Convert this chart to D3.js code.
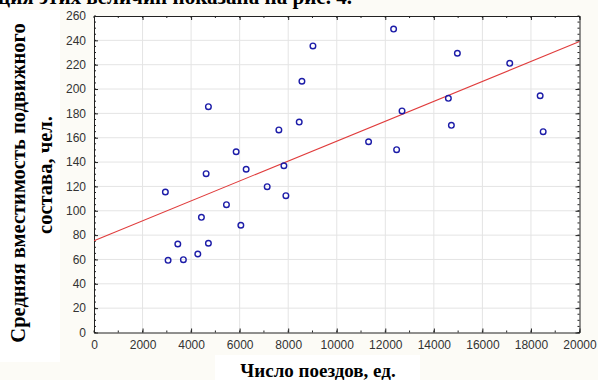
<!DOCTYPE html>
<html>
<head>
<meta charset="utf-8">
<script src="https://cdn.jsdelivr.net/npm/d3@7"></script>
<style>
  body { margin: 0; background: #fcfbf6; }
  svg { display: block; }
</style>
</head>
<body>
<svg id="chart"></svg>
<script>
// Data
const trains = [4713, 9019, 8565, 7616, 8454, 5856, 6268, 7823, 4619, 12342,
  14969, 17126, 18379, 14598, 12689, 14722, 18503, 11311, 12466, 2940,
  7134, 7905, 5456, 4425, 6049, 3452, 4713, 3052, 3682, 4276];
const capacity = [185.5, 235.4, 206.4, 166.4, 172.9, 148.5, 134.1, 137, 130.5, 249.3,
  229.4, 221.1, 194.5, 192.4, 182, 170.2, 165, 156.7, 150.2, 115.4,
  119.8, 112.4, 105, 94.6, 88.1, 72.7, 73.3, 59.3, 59.8, 64.5];
// fitted line: intercept, slope
const fit = [75.4, 0.00818];
const xTicks = [0, 2000, 4000, 6000, 8000, 10000, 12000, 14000, 16000, 18000, 20000];
const yTicks = [0, 20, 40, 60, 80, 100, 120, 140, 160, 180, 200, 220, 240, 260];

const width = 598, height = 380;
const pL = 94, pR = 579.5, pT = 16, pB = 332.5;

const svg = d3.select("#chart").attr("width", width).attr("height", height);

const x = d3.scaleLinear().domain([0, 20000]).range([pL, pR]);
const y = d3.scaleLinear().domain([0, 260]).range([pB, pT]);

// white backgrounds
svg.append("rect").attr("x", pL).attr("y", pT)
  .attr("width", pR - pL).attr("height", pB - pT).attr("fill", "#fff");
svg.append("rect").attr("x", 0).attr("y", 10).attr("width", 60).attr("height", 352).attr("fill", "#fff");
svg.append("rect").attr("x", 215).attr("y", 355).attr("width", 205).attr("height", 25).attr("fill", "#fff");

// grid
svg.append("g").selectAll("line").data(xTicks.slice(1, -1)).enter().append("line")
  .attr("x1", d => x(d)).attr("x2", d => x(d)).attr("y1", pT).attr("y2", pB)
  .attr("stroke", "#e4e4e4");
svg.append("g").selectAll("line").data(yTicks.slice(1, -1)).enter().append("line")
  .attr("y1", d => y(d)).attr("y2", d => y(d)).attr("x1", pL).attr("x2", pR)
  .attr("stroke", "#e4e4e4");

// axes with inward ticks
const tickFont = "'Liberation Sans', Arial, sans-serif";
const xMinor = d3.range(0, 20001, 1000);
const yMinor = d3.range(0, 261, 5);

const bottomAxis = svg.append("g").attr("transform", `translate(0,${pB})`)
  .call(d3.axisBottom(x).tickValues(xTicks).tickFormat(d3.format("d")).tickSizeInner(-4).tickSizeOuter(0).tickPadding(8));
bottomAxis.append("g").selectAll("line").data(xMinor).enter().append("line")
  .attr("x1", d => x(d)).attr("x2", d => x(d)).attr("y1", 0).attr("y2", -2).attr("stroke", "#222");

const topAxis = svg.append("g").attr("transform", `translate(0,${pT})`)
  .call(d3.axisTop(x).tickValues(xTicks).tickFormat("").tickSizeInner(-4).tickSizeOuter(0));
topAxis.append("g").selectAll("line").data(xMinor).enter().append("line")
  .attr("x1", d => x(d)).attr("x2", d => x(d)).attr("y1", 0).attr("y2", 2).attr("stroke", "#222");

const leftAxis = svg.append("g").attr("transform", `translate(${pL},0)`)
  .call(d3.axisLeft(y).tickValues(yTicks).tickSizeInner(-4).tickSizeOuter(0).tickPadding(8));
leftAxis.append("g").selectAll("line").data(yMinor).enter().append("line")
  .attr("y1", d => y(d)).attr("y2", d => y(d)).attr("x1", 0).attr("x2", 2).attr("stroke", "#222");

const rightAxis = svg.append("g").attr("transform", `translate(${pR},0)`)
  .call(d3.axisRight(y).tickValues(yTicks).tickFormat("").tickSizeInner(-4).tickSizeOuter(0));
rightAxis.append("g").selectAll("line").data(yMinor).enter().append("line")
  .attr("y1", d => y(d)).attr("y2", d => y(d)).attr("x1", 0).attr("x2", -2).attr("stroke", "#222");

svg.selectAll(".domain").attr("stroke", "#222");
svg.selectAll(".tick line").attr("stroke", "#222");
svg.selectAll(".tick text").attr("font-family", tickFont).attr("font-size", 12).attr("fill", "#333");

// regression line
svg.append("line")
  .attr("x1", x(0)).attr("y1", y(fit[0]))
  .attr("x2", x(20000)).attr("y2", y(fit[0] + fit[1] * 20000))
  .attr("stroke", "#e03c3c").attr("stroke-width", 1.1);

// points
svg.append("g").selectAll("circle").data(trains).enter().append("circle")
  .attr("cx", d => x(d)).attr("cy", (d, i) => y(capacity[i])).attr("r", 2.8)
  .attr("fill", "none").attr("stroke", "#1c1ca8").attr("stroke-width", 1.4);

// labels
const serif = "'Liberation Serif', 'Times New Roman', serif";
svg.append("text").attr("x", -2).attr("y", 4)
  .attr("font-family", serif).attr("font-weight", "bold").attr("font-size", 21)
  .attr("textLength", 354).attr("lengthAdjust", "spacingAndGlyphs")
  .text("ция этих величин показана на рис. 4.");

svg.append("text").attr("x", 318).attr("y", 377).attr("text-anchor", "middle")
  .attr("font-family", serif).attr("font-weight", "bold").attr("font-size", 19)
  .text("Число поездов, ед.");

svg.append("text").attr("transform", "translate(25,183) rotate(-90)").attr("text-anchor", "middle")
  .attr("font-family", serif).attr("font-weight", "bold").attr("font-size", 20.5)
  .text("Средняя вместимость подвижного");
svg.append("text").attr("transform", "translate(52,175) rotate(-90)").attr("text-anchor", "middle")
  .attr("font-family", serif).attr("font-weight", "bold").attr("font-size", 20.5)
  .text("состава, чел.");
</script>
</body>
</html>
